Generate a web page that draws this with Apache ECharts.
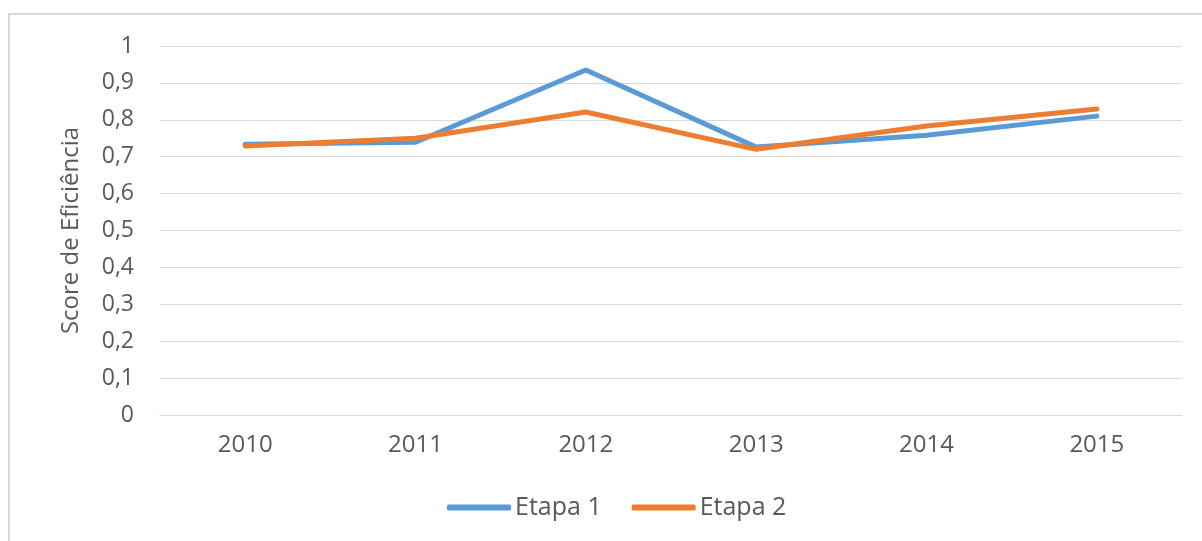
<!DOCTYPE html>
<html>
<head>
<meta charset="utf-8">
<script src="https://cdn.jsdelivr.net/npm/echarts@6/dist/echarts.min.js"></script>
<style>
html,body{margin:0;padding:0;background:#fff;}
#c{width:1202px;height:541px;}
</style>
</head>
<body>
<div id="c"></div>
<script>
const categories = ['2010', '2011', '2012', '2013', '2014', '2015'];
const etapa1 = [0.734, 0.739, 0.935, 0.726, 0.758, 0.810];
const etapa2 = [0.729, 0.750, 0.821, 0.720, 0.783, 0.829];
const seriesNames = ['Etapa 1', 'Etapa 2'];
const axisTitle = 'Score de Eficiência';

const chart = echarts.init(document.getElementById('c'));
const font = '"Open Sans", "Noto Sans", sans-serif';
chart.setOption({
  animation: false,
  backgroundColor: '#fff',
  color: ['#5B9BD5', '#ED7D31'],
  graphic: [{
    type: 'rect', silent: true, z: -1,
    shape: {x: 9, y: 14, width: 1200, height: 540},
    style: {fill: 'none', stroke: '#d9d9d9', lineWidth: 2}
  }],
  grid: {left: 160, right: 20, top: 46, bottom: 126},
  legend: {
    bottom: 16, left: 442, itemWidth: 64, itemHeight: 6, itemGap: 30,
    icon: 'roundRect',
    textStyle: {color: '#595959', fontSize: 25, fontFamily: font, padding: [0, 0, 0, -1]},
    data: seriesNames
  },
  xAxis: {
    type: 'category', data: categories, boundaryGap: true,
    axisLine: {show: true, lineStyle: {color: '#d9d9d9', width: 1}},
    axisTick: {show: false},
    axisLabel: {color: '#595959', fontSize: 24, fontFamily: font, margin: 18}
  },
  yAxis: {
    type: 'value', min: 0, max: 1, interval: 0.1,
    name: axisTitle, nameLocation: 'middle', nameGap: 77, nameRotate: 90,
    nameTextStyle: {color: '#595959', fontSize: 24, fontFamily: font},
    axisLine: {show: false}, axisTick: {show: false},
    splitLine: {lineStyle: {color: '#d9d9d9', width: 1}},
    axisLabel: {
      color: '#595959', fontSize: 23, fontFamily: font, margin: 26,
      formatter: v => String(+v.toFixed(1)).replace('.', ',')
    }
  },
  series: [
    {name: seriesNames[0], type: 'line', data: etapa1, symbol: 'none',
     lineStyle: {width: 5, cap: 'round', join: 'round'}},
    {name: seriesNames[1], type: 'line', data: etapa2, symbol: 'none',
     lineStyle: {width: 5, cap: 'round', join: 'round'}}
  ]
});
</script>
</body>
</html>
